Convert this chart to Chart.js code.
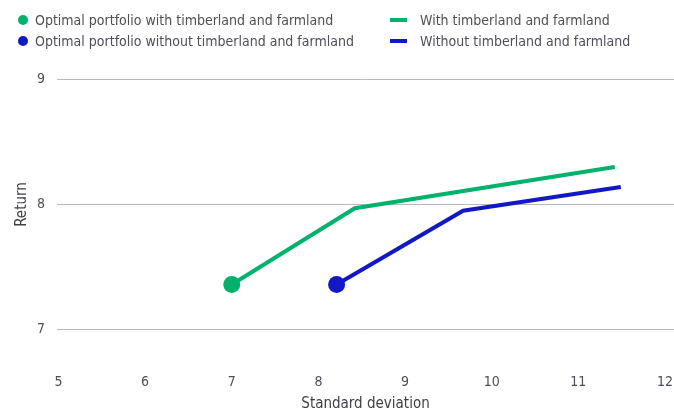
<!DOCTYPE html>
<html>
<head>
<meta charset="utf-8">
<script src="https://cdn.jsdelivr.net/npm/chart.js@4"></script>
<style>
  html, body { margin: 0; padding: 0; background: #fff; }
  #wrap { position: relative; width: 674px; height: 410px; overflow: hidden; }
  canvas { position: absolute; left: 0; top: 0; }
  .legend { position: absolute; left: 0; top: 0; font-family: "Liberation Sans Narrow", "DejaVu Sans Condensed", sans-serif; font-size: 14px; color: #4f4f5a; white-space: nowrap; }
  .row { position: absolute; height: 20px; line-height: 20px; }
  .dot { position: absolute; width: 10px; height: 10px; border-radius: 50%; top: 5px; left: 0; }
  .dash { position: absolute; width: 17px; height: 4px; top: 8px; left: 0; }
  .lab { position: absolute; left: 0; }
</style>
</head>
<body>
<div id="wrap">
  <canvas id="c" width="674" height="410"></canvas>
  <div class="legend" id="legend"></div>
</div>
<script>
// Return vs. standard deviation of efficient portfolios
const seriesNames = ["With timberland and farmland", "Without timberland and farmland"];
const optimalNames = ["Optimal portfolio with timberland and farmland", "Optimal portfolio without timberland and farmland"];
const seriesColors = ["#00b26c", "#1219c4"];

const withStdDev = [7.0, 8.42, 11.42];
const withReturn = [7.36, 7.97, 8.30];
const withoutStdDev = [8.21, 9.67, 11.49];
const withoutReturn = [7.36, 7.95, 8.14];

const xTicks = [5, 6, 7, 8, 9, 10, 11, 12];
const yTicks = [7, 8, 9];

const toPoints = (xs, ys) => xs.map((x, i) => ({ x: x, y: ys[i] }));
const withPts = toPoints(withStdDev, withReturn);
const withoutPts = toPoints(withoutStdDev, withoutReturn);

// HTML legend: two columns (optimal markers, frontier lines)
const legend = document.getElementById('legend');
function addRow(x, y, kind, color, text) {
  const r = document.createElement('div');
  r.className = 'row';
  r.style.left = x + 'px';
  r.style.top = y + 'px';
  const m = document.createElement('div');
  m.className = kind;
  m.style.background = color;
  const t = document.createElement('div');
  t.className = 'lab';
  t.style.left = (kind === 'dot' ? 17 : 30) + 'px';
  t.textContent = text;
  r.appendChild(m); r.appendChild(t);
  legend.appendChild(r);
}
addRow(18, 10, 'dot', seriesColors[0], optimalNames[0]);
addRow(18, 31, 'dot', seriesColors[1], optimalNames[1]);
addRow(390, 10, 'dash', seriesColors[0], seriesNames[0]);
addRow(390, 31, 'dash', seriesColors[1], seriesNames[1]);

Chart.defaults.font.family = '"Liberation Sans Narrow", "DejaVu Sans Condensed", sans-serif';
Chart.defaults.color = '#4f4f5a';

new Chart(document.getElementById('c'), {
  type: 'line',
  data: {
    datasets: [
      { label: seriesNames[0], data: withPts, borderColor: seriesColors[0], borderWidth: 4, pointRadius: 0, tension: 0, order: 2 },
      { label: seriesNames[1], data: withoutPts, borderColor: seriesColors[1], borderWidth: 4, pointRadius: 0, tension: 0, order: 2 },
      { label: optimalNames[0], data: [withPts[0]], showLine: false, pointRadius: 8.5, pointBackgroundColor: seriesColors[0], pointBorderWidth: 0, order: 1 },
      { label: optimalNames[1], data: [withoutPts[0]], showLine: false, pointRadius: 8.5, pointBackgroundColor: seriesColors[1], pointBorderWidth: 0, order: 1 }
    ]
  },
  options: {
    responsive: false,
    animation: false,
    layout: { autoPadding: false, padding: { top: 79.5, right: 0, left: 0, bottom: 0 } },
    plugins: { legend: { display: false }, tooltip: { enabled: false } },
    scales: {
      x: {
        type: 'linear',
        min: 4.983,
        max: 12.104,
        afterBuildTicks: (s) => { s.ticks = xTicks.map(v => ({ value: v })); },
        afterFit: (s) => { s.height = 80.5; s.paddingRight = 0; s.paddingLeft = 0; },
        grid: { display: false, drawTicks: true, tickLength: 44 },
        border: { display: false },
        ticks: { padding: 0, font: { size: 14 }, color: '#4f4f5a' },
        title: { display: true, text: 'Standard deviation', font: { size: 15 }, color: '#3f3f4a', padding: { top: 0, bottom: -3 } }
      },
      y: {
        type: 'linear',
        min: 7,
        max: 9,
        afterBuildTicks: (s) => { s.ticks = yTicks.map(v => ({ value: v })); },
        afterFit: (s) => { s.width = 57; },
        grid: { color: '#b9b9c4', lineWidth: 1, drawTicks: false },
        border: { display: false },
        ticks: { padding: 12, font: { size: 14 }, color: '#4f4f5a' },
        title: { display: true, text: 'Return', font: { size: 15 }, color: '#3f3f4a', padding: { top: 13 } }
      }
    }
  }
});
</script>
</body>
</html>
